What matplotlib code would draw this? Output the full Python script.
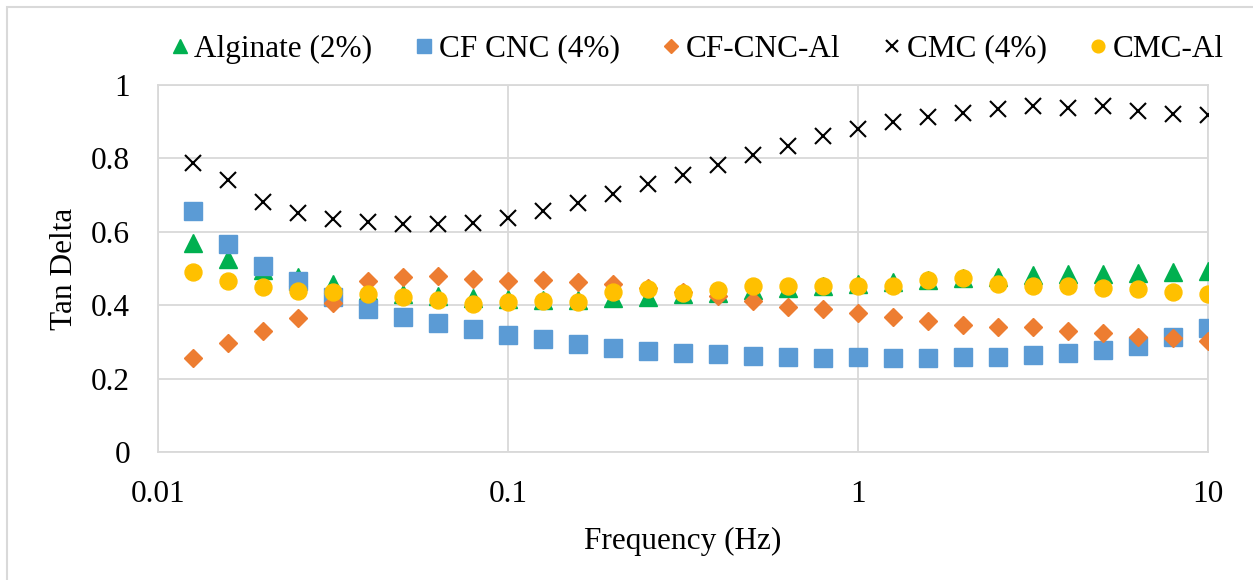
import matplotlib
matplotlib.use("Agg")
import matplotlib.pyplot as plt
from matplotlib.patches import Rectangle
from matplotlib.ticker import FixedLocator, NullLocator, FixedFormatter

# frequency sweep (Hz)
freq = [0.0126, 0.0158, 0.02, 0.0251, 0.0316, 0.0398, 0.0501, 0.0631, 0.0794, 0.1,
        0.126, 0.158, 0.2, 0.251, 0.316, 0.398, 0.501, 0.631, 0.794, 1.0,
        1.26, 1.58, 2.0, 2.51, 3.16, 3.98, 5.01, 6.31, 7.94, 10.0]

alginate = [0.569, 0.526, 0.497, 0.478, 0.459, 0.440, 0.430, 0.425, 0.419, 0.416,
            0.414, 0.414, 0.420, 0.422, 0.430, 0.433, 0.441, 0.448, 0.452, 0.459,
            0.464, 0.469, 0.473, 0.478, 0.482, 0.484, 0.486, 0.489, 0.491, 0.494]

cf_cnc = [0.657, 0.566, 0.506, 0.467, 0.422, 0.389, 0.369, 0.351, 0.334, 0.319,
          0.307, 0.294, 0.284, 0.275, 0.271, 0.267, 0.262, 0.260, 0.257, 0.258,
          0.257, 0.257, 0.258, 0.260, 0.264, 0.269, 0.278, 0.290, 0.312, 0.337]

cf_cnc_al = [0.257, 0.298, 0.331, 0.364, 0.405, 0.466, 0.478, 0.480, 0.471, 0.467,
             0.470, 0.464, 0.458, 0.448, 0.437, 0.425, 0.411, 0.396, 0.391, 0.378,
             0.369, 0.358, 0.346, 0.340, 0.340, 0.331, 0.323, 0.314, 0.310, 0.302]

cmc = [0.787, 0.742, 0.680, 0.650, 0.635, 0.626, 0.621, 0.621, 0.625, 0.638,
       0.657, 0.678, 0.702, 0.729, 0.755, 0.782, 0.809, 0.835, 0.861, 0.881,
       0.898, 0.914, 0.925, 0.934, 0.944, 0.938, 0.943, 0.929, 0.922, 0.919]

cmc_al = [0.491, 0.467, 0.449, 0.439, 0.437, 0.430, 0.423, 0.414, 0.402, 0.408,
          0.411, 0.410, 0.437, 0.443, 0.432, 0.441, 0.451, 0.451, 0.453, 0.453,
          0.452, 0.470, 0.475, 0.457, 0.451, 0.452, 0.448, 0.443, 0.437, 0.431]

series_labels = ["Alginate (2%)", "CF CNC (4%)", "CF-CNC-Al", "CMC (4%)", "CMC-Al"]
x_ticks = [0.01, 0.1, 1, 10]
x_tick_labels = ["0.01", "0.1", "1", "10"]
y_ticks = [0, 0.2, 0.4, 0.6, 0.8, 1.0]
y_tick_labels = ["0", "0.2", "0.4", "0.6", "0.8", "1"]

plt.rcParams["font.family"] = ["Liberation Serif", "DejaVu Serif"]
plt.rcParams["font.size"] = 22.5

fig = plt.figure(figsize=(12.53, 5.8), dpi=100)
ax = fig.add_axes([158 / 1253, 1 - 452 / 580, 1050 / 1253, 367 / 580])

grid_col = "#d9d9d9"
ax.plot(freq, alginate, linestyle="none", marker="^", ms=12.5, color="#00b050",
        label=series_labels[0], zorder=3)
ax.plot(freq, cf_cnc, linestyle="none", marker="s", ms=12.5, color="#5b9bd5",
        label=series_labels[1], zorder=4)
ax.plot(freq, cf_cnc_al, linestyle="none", marker="D", ms=9.2, color="#ed7d31",
        label=series_labels[2], zorder=5)
ax.plot(freq, cmc, linestyle="none", marker="x", ms=11.5, mew=1.5, color="black",
        label=series_labels[3], zorder=6)
ax.plot(freq, cmc_al, linestyle="none", marker="o", ms=12.2, color="#ffc000",
        label=series_labels[4], zorder=7)

ax.set_xscale("log")
ax.set_xlim(0.01, 10)
ax.set_ylim(0, 1)
ax.xaxis.set_major_locator(FixedLocator(x_ticks))
ax.xaxis.set_major_formatter(FixedFormatter(x_tick_labels))
ax.xaxis.set_minor_locator(NullLocator())
ax.set_yticks(y_ticks)
ax.set_yticklabels(y_tick_labels)
ax.tick_params(axis="both", length=0)
ax.tick_params(axis="y", pad=20)
ax.tick_params(axis="x", pad=20)
ax.grid(True, color=grid_col, linewidth=1.3)
ax.set_axisbelow(True)
for s in ax.spines.values():
    s.set_color(grid_col)
    s.set_linewidth(1.3)

ax.set_xlabel("Frequency (Hz)", labelpad=13)
ax.set_ylabel("Tan Delta", labelpad=9)

fig.legend(loc="center", bbox_to_anchor=(698 / 1253, 1 - 49 / 580), ncol=5,
           frameon=False, handlelength=0.5, handletextpad=0.22,
           columnspacing=1.4, markerscale=0.75, borderaxespad=0)

# light frame around the chart area
fig.patches.append(Rectangle((6.5 / 1253, -0.1), 1.2, 1 - 7 / 580 + 0.1,
                             transform=fig.transFigure, fill=False,
                             edgecolor=grid_col, linewidth=1.5))

fig.savefig("out.png", dpi=100)
